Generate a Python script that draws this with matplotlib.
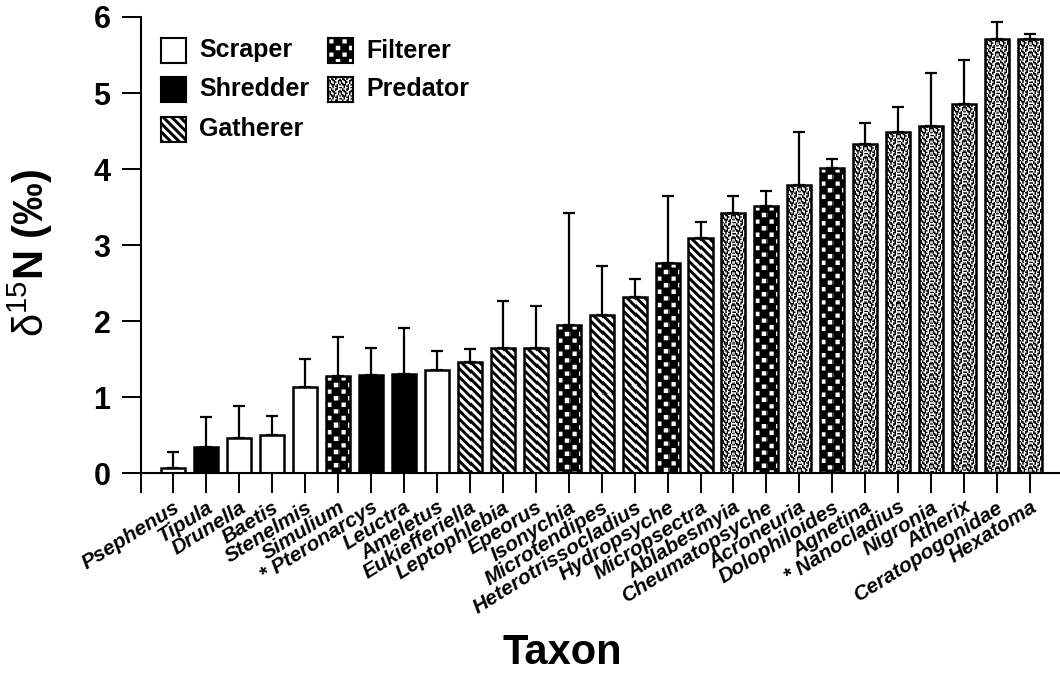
import numpy as np
import matplotlib
matplotlib.use("Agg")
import matplotlib.pyplot as plt

plt.rcParams['font.family'] = ['Liberation Sans', 'DejaVu Sans']
plt.rcParams['mathtext.fontset'] = 'custom'
plt.rcParams['mathtext.rm'] = 'Liberation Sans'
plt.rcParams['mathtext.bf'] = 'Liberation Sans:bold'
plt.rcParams['mathtext.it'] = 'Liberation Sans:italic'

# ---------------- data ----------------
taxa = ["Psephenus", "Tipula", "Drunella", "Baetis", "Stenelmis", "Simulium",
        "* Pteronarcys", "Leuctra", "Ameletus", "Eukiefferiella", "Leptophlebia",
        "Epeorus", "Isonychia", "Microtendipes", "Heterotrissocladius",
        "Hydropsyche", "Micropsectra", "Ablabesmyia", "Cheumatopsyche",
        "Acroneuria", "Dolophiloides", "Agnetina", "* Nanocladius", "Nigronia",
        "Atherix", "Ceratopogonidae", "Hexatoma"]
groups = ["Scraper", "Shredder", "Scraper", "Scraper", "Scraper", "Filterer",
          "Shredder", "Shredder", "Scraper", "Gatherer", "Gatherer",
          "Gatherer", "Filterer", "Gatherer", "Gatherer",
          "Filterer", "Gatherer", "Predator", "Filterer",
          "Predator", "Filterer", "Predator", "Predator", "Predator",
          "Predator", "Predator", "Predator"]
d15n = [0.07, 0.35, 0.46, 0.50, 1.14, 1.28, 1.29, 1.30, 1.36, 1.47, 1.65,
        1.65, 1.95, 2.08, 2.32, 2.77, 3.10, 3.42, 3.52, 3.79, 4.02, 4.33,
        4.49, 4.57, 4.85, 5.71, 5.71]
sd_upper = [0.21, 0.39, 0.43, 0.26, 0.36, 0.51, 0.36, 0.61, 0.25, 0.17, 0.62,
            0.55, 1.47, 0.65, 0.24, 0.88, 0.20, 0.23, 0.19, 0.70, 0.11, 0.28,
            0.33, 0.70, 0.58, 0.22, 0.07]
legend_groups = ["Scraper", "Shredder", "Gatherer", "Filterer", "Predator"]
yticks = [0, 1, 2, 3, 4, 5, 6]

# ---------------- textures ----------------
STIPPLE = np.array([
    [1, 1, 0, 1, 1, 0, 0, 1],
    [0, 1, 0, 0, 1, 0, 1, 1],
    [0, 0, 1, 0, 0, 1, 1, 0],
    [1, 0, 1, 1, 0, 0, 1, 0],
    [1, 0, 0, 1, 0, 1, 1, 0],
    [0, 1, 0, 0, 0, 1, 0, 1],
    [1, 1, 1, 0, 1, 0, 0, 1],
    [0, 0, 1, 0, 1, 1, 0, 1]], dtype=float)


def texture(kind, hp, wp):
    hp = max(int(round(hp)), 1)
    wp = max(int(round(wp)), 1)
    if kind == "Scraper":
        return np.ones((hp, wp))
    if kind == "Shredder":
        return np.zeros((hp, wp))
    ss = 4
    yy, xx = np.mgrid[0:hp * ss, 0:wp * ss] / ss
    if kind == "Gatherer":
        period = 8.4
        v = (((xx - yy) % period) >= period * 0.5).astype(float)
    elif kind == "Filterer":
        cell = 6.6
        i = np.floor(yy / cell)
        j = np.floor(xx / cell)
        u = yy - i * cell
        w = xx - j * cell
        m = 1.1
        v = (((i + j) % 2 == 0) & (u > m) & (u < cell - m) & (w > m) & (w < cell - m)).astype(float)
    else:  # Predator
        sc = 1.4
        r = (np.floor(yy / sc).astype(int)) % STIPPLE.shape[0]
        c = (np.floor(xx / sc).astype(int)) % STIPPLE.shape[1]
        v = STIPPLE[r, c]
    return v.reshape(hp, ss, wp, ss).mean(axis=(1, 3))


# ---------------- figure ----------------
W, H = 1060, 675
fig = plt.figure(figsize=(W / 100, H / 100), dpi=100)
fig.patch.set_facecolor("white")

x_left_px, x_right_px = 141, 1060
y0_px, y6_px = 473.3, 17
ax = fig.add_axes([x_left_px / W, 1 - y0_px / H,
                   (x_right_px - x_left_px) / W, (y0_px - y6_px) / H])

n = len(taxa)
x = np.arange(n)
xlim = (-0.98, 26.91)
ylim = (0, 6)
ax.set_xlim(*xlim)
ax.set_ylim(*ylim)
bw = 0.73

ax.errorbar(x, d15n, yerr=[np.zeros(n), sd_upper], fmt="none", ecolor="black",
            elinewidth=1.6, capsize=4, capthick=1.6, zorder=1)
fill = ax.bar(x, d15n, width=bw, color="white", edgecolor="none", zorder=2)

sx = ax.transData.transform((1, 0))[0] - ax.transData.transform((0, 0))[0]
sy = ax.transData.transform((0, 1))[1] - ax.transData.transform((0, 0))[1]
for rect, g in zip(fill, groups):
    x0, w, h = rect.get_x(), rect.get_width(), rect.get_height()
    tex = texture(g, h * sy, w * sx)
    im = ax.imshow(tex, cmap="gray", vmin=0, vmax=1, extent=(x0, x0 + w, 0, h),
                   aspect="auto", interpolation="nearest", zorder=2.5)
    im.set_clip_path(rect)

ax.bar(x, d15n, width=bw, facecolor="none", edgecolor="black", linewidth=1.8, zorder=3)

ax.set_xlim(*xlim)
ax.set_ylim(*ylim)
ax.set_aspect("auto")

for s in ["top", "right"]:
    ax.spines[s].set_visible(False)
for s in ["left", "bottom"]:
    ax.spines[s].set_linewidth(1.5)
ax.spines["left"].set_bounds(0, 6)

ax.set_yticks(yticks)
ax.set_yticklabels([str(t) for t in yticks], fontsize=22, fontweight="bold")
ax.tick_params(axis="y", direction="out", length=14, width=1.4, pad=8)

ax.set_xticks([xlim[0]] + list(x))
ax.set_xticklabels([""] + taxa, rotation=32, ha="right", va="top",
                   rotation_mode="anchor", fontsize=15, fontweight="bold",
                   fontstyle="italic")
ax.tick_params(axis="x", direction="out", length=14.5, width=1.4, pad=3)

# y label
fig.text(30 / W, 1 - 253 / H, "$\\mathrm{δ}^{\\mathrm{15}}$N (‰)", rotation=90,
         fontsize=30, fontweight="bold", ha="center", va="center")
# x label
fig.text(562 / W, 1 - 664 / H, "Taxon", fontsize=30, fontweight="bold",
         ha="center", va="baseline")

# legend (manual swatches)
leg_pos = {"Scraper": (161, 38), "Shredder": (161, 77), "Gatherer": (161, 117),
           "Filterer": (328, 38), "Predator": (328, 77)}
sw = 25
for g in legend_groups:
    px, py = leg_pos[g]
    lax = fig.add_axes([px / W, 1 - (py + sw) / H, sw / W, sw / H])
    lax.imshow(texture(g, sw, sw), cmap="gray", vmin=0, vmax=1,
               interpolation="nearest", aspect="auto")
    lax.set_xticks([])
    lax.set_yticks([])
    for s in lax.spines.values():
        s.set_linewidth(1.5)
    fig.text((px + sw + 13) / W, 1 - (py + sw / 2) / H, g, fontsize=18,
             fontweight="bold", ha="left", va="center")

fig.savefig("out.png", dpi=100, facecolor="white")
